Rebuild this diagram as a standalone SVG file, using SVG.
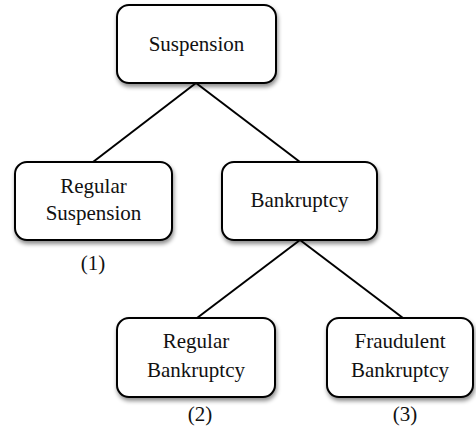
<svg xmlns="http://www.w3.org/2000/svg" width="476" height="430" viewBox="0 0 476 430">
<style>
.box{fill:#fff;stroke:#000;stroke-width:2;filter:url(#sh)}
.c{stroke:#000;stroke-width:2;fill:none}
</style>
<defs>
<filter id="sh" x="-10%" y="-10%" width="130%" height="140%">
<feDropShadow dx="1" dy="3" stdDeviation="2" flood-color="#000" flood-opacity="0.45"/>
</filter>
</defs>
<rect width="476" height="430" fill="#fff"/>
<g id="connectors">
<line class="c" x1="196" y1="83" x2="93" y2="162"/>
<line class="c" x1="196" y1="83" x2="300" y2="162"/>
<line class="c" x1="300" y1="240" x2="197" y2="318"/>
<line class="c" x1="300" y1="240" x2="403" y2="318"/>
</g>
<g font-family="Liberation Serif, DejaVu Serif, serif" font-size="21" fill="#111" text-anchor="middle">
<g id="suspension">
<rect class="box" x="117" y="5" width="159" height="78" rx="12"/>
<text x="196.5" y="51">Suspension</text>
</g>
<g id="regular-suspension">
<rect class="box" x="15" y="162" width="157" height="78" rx="12"/>
<text x="93.5" y="193">Regular</text>
<text x="93.5" y="220">Suspension</text>
<text x="93" y="270">(1)</text>
</g>
<g id="bankruptcy">
<rect class="box" x="222" y="162" width="155" height="78" rx="12"/>
<text x="299.5" y="207">Bankruptcy</text>
</g>
<g id="regular-bankruptcy">
<rect class="box" x="117" y="318" width="158" height="79" rx="12"/>
<text x="196" y="348">Regular</text>
<text x="196" y="377">Bankruptcy</text>
<text x="200" y="421">(2)</text>
</g>
<g id="fraudulent-bankruptcy">
<rect class="box" x="327" y="318" width="146" height="79" rx="12"/>
<text x="400" y="348">Fraudulent</text>
<text x="400" y="377">Bankruptcy</text>
<text x="405" y="421">(3)</text>
</g>
</g>
</svg>
